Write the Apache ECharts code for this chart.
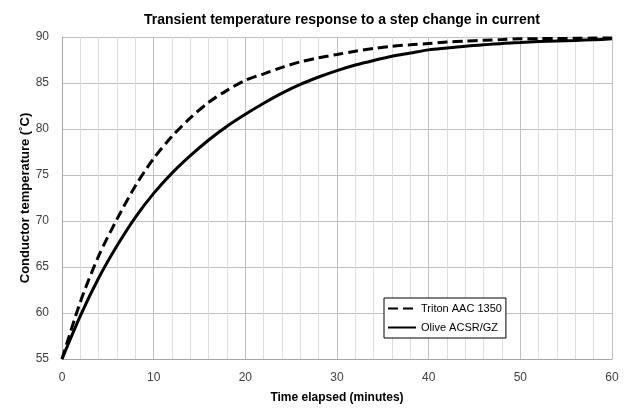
<!DOCTYPE html>
<html>
<head>
<meta charset="utf-8">
<script src="https://cdn.jsdelivr.net/npm/echarts@6/dist/echarts.min.js"></script>
<style>
html,body{margin:0;padding:0;background:#fff;}
#chart{width:635px;height:415px;}
</style>
</head>
<body>
<div id="chart"></div>
<script>
var timeMinutes = [0, 2, 4, 6, 8, 10, 12, 14, 16, 18, 20, 22, 24, 26, 28, 30, 32, 34, 36, 38, 40, 42, 44, 46, 48, 50, 52, 54, 56, 58, 60];
var tritonTemps = [55, 61.2, 66.2, 70.2, 73.8, 76.8, 79.2, 81.2, 82.9, 84.2, 85.3, 86.0, 86.7, 87.3, 87.75, 88.1, 88.45, 88.75, 89.0, 89.15, 89.3, 89.45, 89.55, 89.65, 89.72, 89.8, 89.82, 89.84, 89.86, 89.88, 89.9];
var oliveTemps = [55, 59.7, 63.8, 67.3, 70.4, 73.0, 75.2, 77.1, 78.8, 80.3, 81.6, 82.8, 83.9, 84.85, 85.65, 86.35, 86.95, 87.45, 87.9, 88.25, 88.6, 88.8, 89.0, 89.15, 89.3, 89.4, 89.5, 89.57, 89.63, 89.7, 89.8];
var seriesNames = ['Triton AAC 1350', 'Olive ACSR/GZ'];

function pairs(xs, ys) { return xs.map(function (x, i) { return [x, ys[i]]; }); }

var font = 'Liberation Sans, Arial, sans-serif';
var chart = echarts.init(document.getElementById('chart'), null, {renderer: 'canvas'});
chart.setOption({
  animation: false,
  backgroundColor: '#fff',
  title: {
    text: 'Transient temperature response to a step change in current',
    left: 337, top: 8, textAlign: 'center',
    textStyle: {fontFamily: font, fontSize: 14, fontWeight: 'bold', color: '#000'}
  },
  grid: {left: 62, right: 23, top: 37, bottom: 56},
  legend: {
    orient: 'vertical', left: 384, top: 298,
    backgroundColor: '#fff', borderColor: '#000', borderWidth: 1,
    padding: [5, 4, 5, 3], itemGap: 8, itemWidth: 28, itemHeight: 10,
    itemStyle: {opacity: 0},
    textStyle: {fontFamily: font, fontSize: 11, color: '#000'},
    data: seriesNames
  },
  xAxis: {
    type: 'value', min: 0, max: 60, interval: 10,
    name: 'Time elapsed (minutes)', nameLocation: 'middle', nameGap: 33,
    nameTextStyle: {fontFamily: font, fontSize: 12, fontWeight: 'bold', color: '#000'},
    axisLine: {show: true, lineStyle: {color: '#a6a6a6', width: 1}},
    axisTick: {show: false},
    axisLabel: {fontFamily: font, fontSize: 12, color: '#404040', margin: 13},
    splitLine: {show: true, lineStyle: {color: '#c0c0c0', width: 1}},
    minorTick: {show: false, splitNumber: 5},
    minorSplitLine: {show: true, lineStyle: {color: '#dedede', width: 1}}
  },
  yAxis: {
    type: 'value', min: 55, max: 90, interval: 5,
    name: 'Conductor temperature (˚C)', nameLocation: 'middle', nameGap: 30,
    nameMoveOverlap: false,
    nameTextStyle: {fontFamily: font, fontSize: 13, fontWeight: 'bold', color: '#000'},
    axisLine: {show: true, lineStyle: {color: '#a6a6a6', width: 1}},
    axisTick: {show: false},
    axisLabel: {fontFamily: font, fontSize: 12, color: '#404040', margin: 13},
    splitLine: {show: true, lineStyle: {color: '#c0c0c0', width: 1}}
  },
  series: [
    {
      name: seriesNames[0], type: 'line', smooth: 0.3, symbol: 'none',
      data: pairs(timeMinutes, tritonTemps),
      lineStyle: {color: '#000', width: 3, type: [10, 5]},
      itemStyle: {color: '#000'}
    },
    {
      name: seriesNames[1], type: 'line', smooth: 0.3, symbol: 'none',
      data: pairs(timeMinutes, oliveTemps),
      lineStyle: {color: '#000', width: 3, type: 'solid'},
      itemStyle: {color: '#000'}
    }
  ]
});
</script>
</body>
</html>
